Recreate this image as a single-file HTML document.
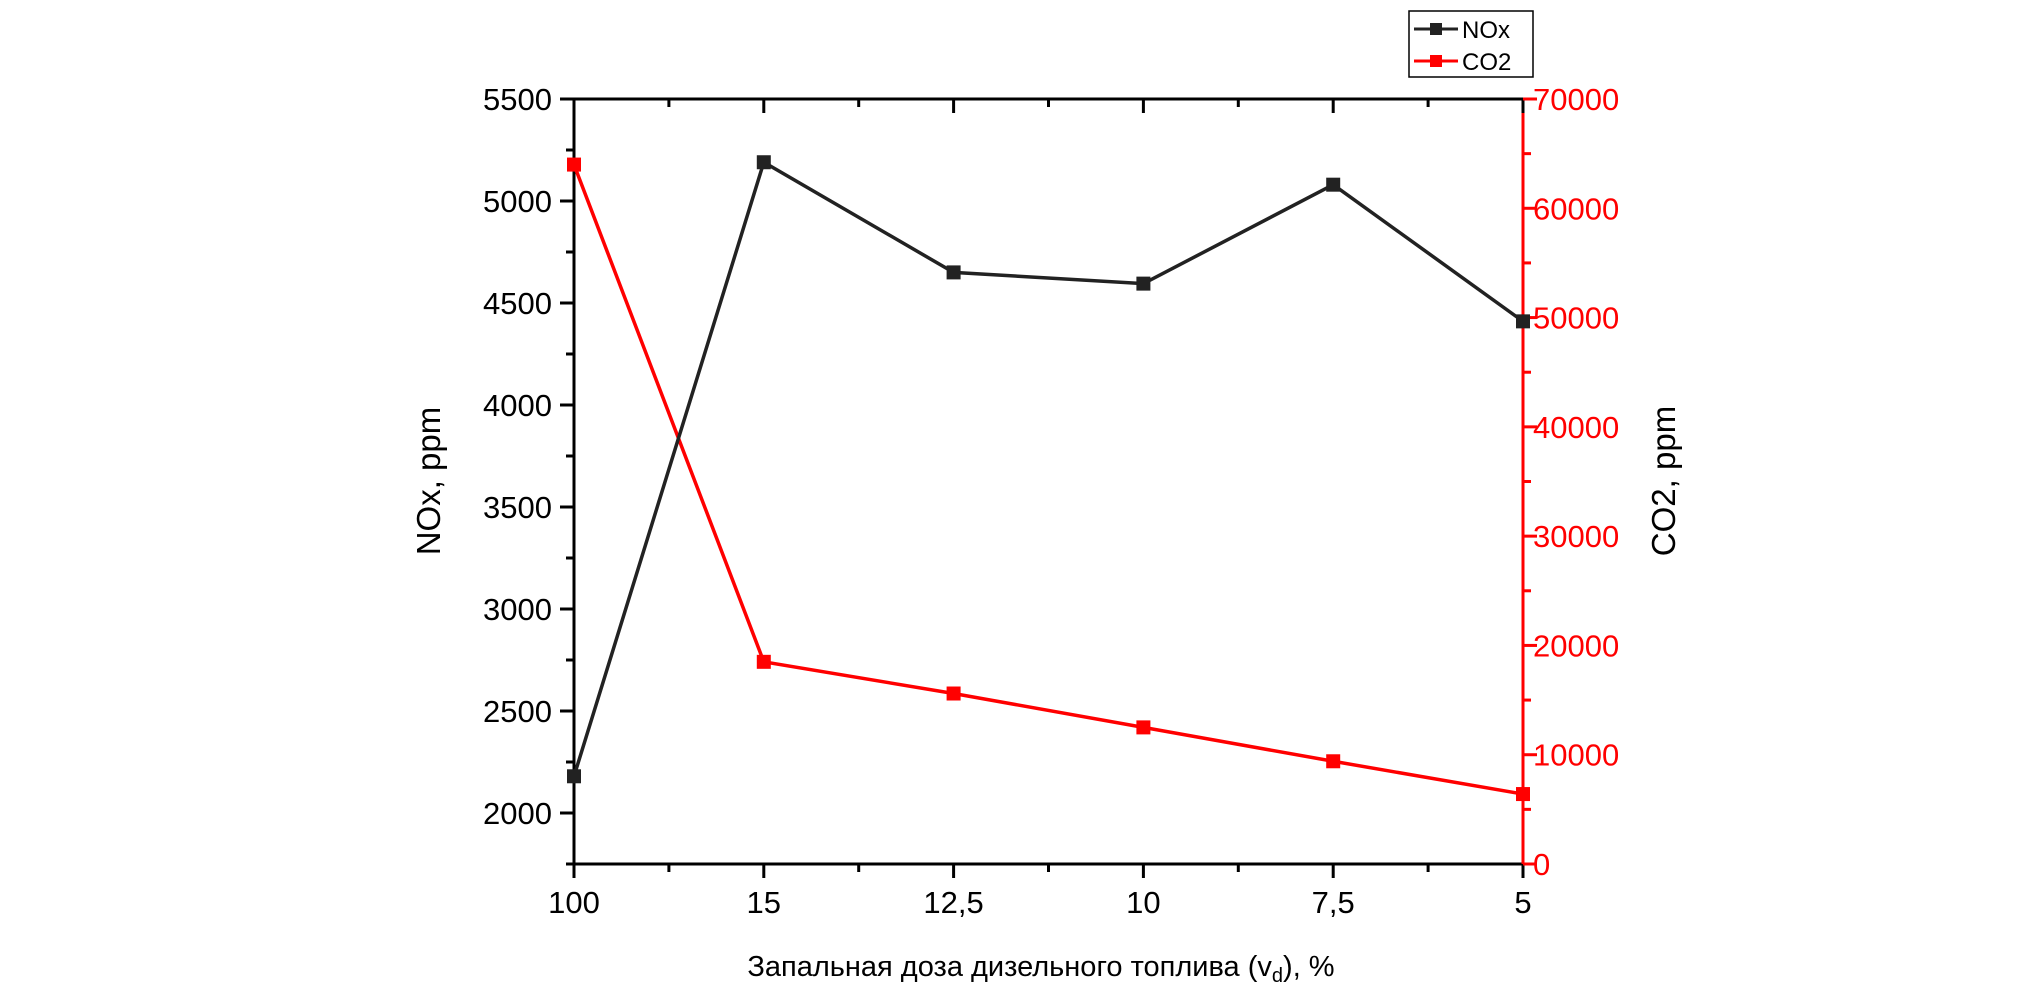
<!DOCTYPE html>
<html><head><meta charset="utf-8"><style>
body{margin:0;background:#fff;}
svg text{font-family:"Liberation Sans",sans-serif;}
</style></head><body>
<svg id="chart" width="2020" height="1000" xmlns="http://www.w3.org/2000/svg">
<g id="axes"></g><g id="series"></g>
<g>
<rect x="1409" y="11" width="124" height="66" fill="#fff" stroke="#000" stroke-width="1.5"/>
<g>
<line x1="1414" y1="29" x2="1458" y2="29" stroke="#222" stroke-width="3"/><rect x="1430" y="23" width="12" height="12" fill="#222"/>
<text x="1462" y="38" font-size="24">NOx</text></g>
<g>
<line x1="1414" y1="61" x2="1458" y2="61" stroke="#f00" stroke-width="3"/><rect x="1430" y="55" width="12" height="12" fill="#f00"/>
<text x="1462" y="70" font-size="24">CO2</text></g>
</g>
<text x="440" y="481" font-size="33" text-anchor="middle" transform="rotate(-90 440 481)">NOx, ppm</text>
<text x="1675" y="481" font-size="33" text-anchor="middle" transform="rotate(-90 1675 481)">CO2, ppm</text>
<text x="1041" y="976" font-size="29" text-anchor="middle">Запальная доза дизельного топлива (v<tspan font-size="20" dy="6">d</tspan><tspan dy="-6">), %</tspan></text>
</svg>
<script>
const categories=["100","15","12,5","10","7,5","5"];
const noxValues=[2180,5190,4650,4595,5080,4410];
const co2Values=[64000,18500,15600,12500,9400,6400];
const leftTicks=[2000,2500,3000,3500,4000,4500,5000,5500];
const rightTicks=[0,10000,20000,30000,40000,50000,60000,70000];
const L=574,R=1523,T=99,B=864;
const xs=i=>L+(R-L)*i/(categories.length-1);
const yL=v=>B-(v-1750)/(5500-1750)*(B-T);
const yR=v=>B-v/70000*(B-T);
const NS="http://www.w3.org/2000/svg";
function mk(p,tag,a){const e=document.createElementNS(NS,tag);for(const k in a)e.setAttribute(k,a[k]);p.appendChild(e);return e;}
const ax=document.getElementById('axes'),se=document.getElementById('series');
let e;
e=mk(ax,'line',{x1:L,y1:T,x2:R,y2:T,stroke:'#000','stroke-width':3});


e=mk(ax,'line',{x1:L,y1:B,x2:R,y2:B,stroke:'#000','stroke-width':3});


e=mk(ax,'line',{x1:L,y1:T,x2:L,y2:B,stroke:'#000','stroke-width':3});


e=mk(ax,'line',{x1:R,y1:T,x2:R,y2:B,stroke:'#f00','stroke-width':3});


categories.forEach((c,i)=>{
 const x=xs(i);
 mk(ax,'line',{x1:x,y1:B,x2:x,y2:B+14,stroke:'#000','stroke-width':3});
 mk(ax,'line',{x1:x,y1:T,x2:x,y2:T+14,stroke:'#000','stroke-width':3});
 if(i<categories.length-1){const xm=(x+xs(i+1))/2;
  mk(ax,'line',{x1:xm,y1:B,x2:xm,y2:B+8,stroke:'#000','stroke-width':3});
  mk(ax,'line',{x1:xm,y1:T,x2:xm,y2:T+8,stroke:'#000','stroke-width':3});}
 const t=mk(ax,'text',{x:x,y:913,'font-size':31,'text-anchor':'middle'});t.textContent=c;
 
 
});
leftTicks.forEach(v=>{
 const y=yL(v);
 mk(ax,'line',{x1:L-14,y1:y,x2:L,y2:y,stroke:'#000','stroke-width':3});
 const ym=yL(v-250);mk(ax,'line',{x1:L-8,y1:ym,x2:L,y2:ym,stroke:'#000','stroke-width':3});
 const t=mk(ax,'text',{x:552,y:y+11,'font-size':31,'text-anchor':'end'});t.textContent=v;
 
 
});
rightTicks.forEach(v=>{
 const y=yR(v);
 mk(ax,'line',{x1:R,y1:y,x2:R+14,y2:y,stroke:'#f00','stroke-width':3});
 if(v<70000){const ym=yR(v+5000);mk(ax,'line',{x1:R,y1:ym,x2:R+8,y2:ym,stroke:'#f00','stroke-width':3});}
 const t=mk(ax,'text',{x:1533,y:y+11,'font-size':31,fill:'#f00'});t.textContent=v;
 
 
});
function series(vals,fy,col,name){
 const pts=vals.map((v,i)=>xs(i)+','+fy(v)).join(' ');
 const pl=mk(se,'polyline',{points:pts,fill:'none',stroke:col,'stroke-width':3.5});
 
 
 vals.forEach((v,i)=>{const r=mk(se,'rect',{x:xs(i)-7,y:fy(v)-7,width:14,height:14,fill:col});
  
  });
}
series(co2Values,yR,'#f00','co2');
series(noxValues,yL,'#222','nox');
</script>
</body></html>
